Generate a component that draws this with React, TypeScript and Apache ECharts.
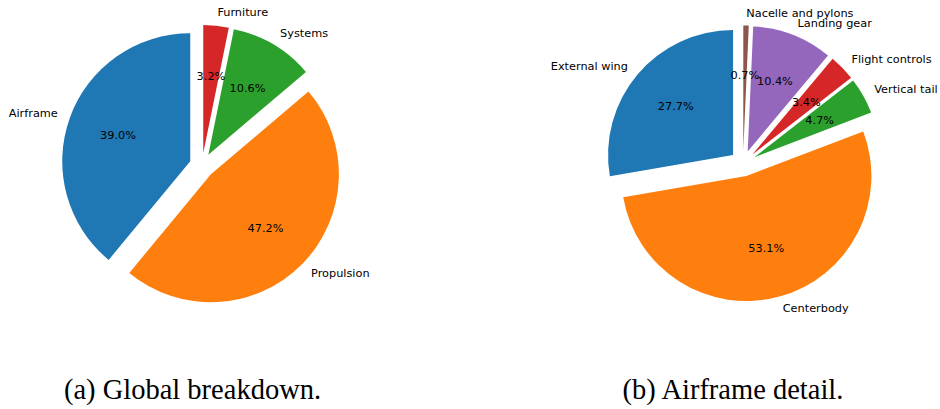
import React, { useEffect, useRef } from "react";
import * as echarts from "echarts";

const globalLabels = ["Airframe", "Propulsion", "Systems", "Furniture"];
const globalValues = [39.0, 47.2, 10.6, 3.2];
const globalColors = ["#1f77b4", "#ff7f0e", "#2ca02c", "#d62728"];

const airframeLabels = [
  "External wing",
  "Centerbody",
  "Vertical tail",
  "Flight controls",
  "Landing gear",
  "Nacelle and pylons",
];
const airframeValues = [27.7, 53.1, 4.7, 3.4, 10.4, 0.7];
const airframeColors = ["#1f77b4", "#ff7f0e", "#2ca02c", "#d62728", "#9467bd", "#8c564b"];

const captions = ["(a) Global breakdown.", "(b) Airframe detail."];

const LABEL_FONT = "DejaVu Sans";
const LABEL_SIZE = 11.3;

function buildPie(
  labels: string[],
  values: number[],
  colors: string[],
  center: [number, number],
  R: number,
  explode: number
) {
  const slices = {
    type: "pie",
    center,
    radius: [0, R],
    startAngle: 90,
    clockwise: false,
    selectedMode: "multiple",
    selectedOffset: explode,
    avoidLabelOverlap: false,
    silent: true,
    emphasis: { disabled: true },
    labelLayout: { hideOverlap: false },
    label: {
      show: true,
      position: "outside",
      distanceToLabelLine: 0,
      fontFamily: LABEL_FONT,
      fontSize: LABEL_SIZE,
      color: "#000",
      formatter: (p: any) => p.name,
    },
    labelLine: { show: false, length: R * 0.1, length2: 0 },
    data: labels.map((name, i) => ({
      name,
      value: values[i],
      selected: true,
      itemStyle: { color: colors[i] },
    })),
  };
  const pct = {
    type: "pie",
    center,
    radius: [R * 0.2 - 6, R],
    startAngle: 90,
    clockwise: false,
    selectedMode: "multiple",
    selectedOffset: explode,
    avoidLabelOverlap: false,
    silent: true,
    emphasis: { disabled: true },
    labelLayout: { hideOverlap: false },
    label: {
      show: true,
      position: "inside",
      fontFamily: LABEL_FONT,
      fontSize: LABEL_SIZE,
      color: "#000",
      formatter: (p: any) => `${Number(p.value).toFixed(1)}%`,
    },
    labelLine: { show: false },
    data: labels.map((name, i) => ({
      name,
      value: values[i],
      selected: true,
      itemStyle: { color: "rgba(0,0,0,0)" },
    })),
  };
  return [slices, pct];
}

export default function App() {
  const ref = useRef<HTMLDivElement>(null);
  useEffect(() => {
    if (!ref.current) return;
    const chart = echarts.init(ref.current, undefined, { renderer: "svg" });
    chart.setOption({
      animation: false,
      backgroundColor: "#fff",
      series: [
        ...buildPie(globalLabels, globalValues, globalColors, [202, 165.5], 128, 12.5),
        ...buildPie(airframeLabels, airframeValues, airframeColors, [743, 163.5], 125, 13),
      ],
      graphic: [
        {
          type: "text",
          x: 192.5,
          y: 389,
          style: {
            text: captions[0],
            fontFamily: "Liberation Serif",
            fontSize: 28.5,
            fill: "#000",
            align: "center",
            verticalAlign: "middle",
          },
        },
        {
          type: "text",
          x: 733,
          y: 389,
          style: {
            text: captions[1],
            fontFamily: "Liberation Serif",
            fontSize: 28.5,
            fill: "#000",
            align: "center",
            verticalAlign: "middle",
          },
        },
      ],
    });
    return () => chart.dispose();
  }, []);
  return (
    <div
      ref={ref}
      style={{ position: "absolute", left: 0, top: 0, width: 940, height: 409 }}
    />
  );
}
